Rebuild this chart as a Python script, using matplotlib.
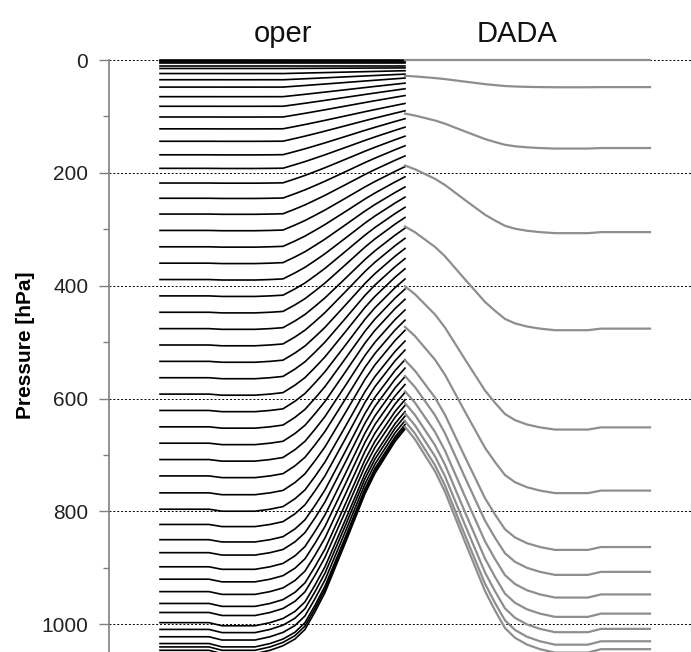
import numpy as np
import matplotlib
matplotlib.use("Agg")
import matplotlib.pyplot as plt

plt.rcParams["font.family"] = ["Liberation Sans", "DejaVu Sans"]

# horizontal grid nodes: distance from the mountain top (oper to the left, DADA to the right)
dist = [0, 10, 20, 30, 40, 50, 60, 70, 80, 90, 100, 110, 122, 135, 150, 183, 196, 245]
# surface pressure under each node (hPa)
surf_p = [650, 672, 700, 728, 764, 808, 852, 895, 938, 972, 1003, 1020, 1032, 1040, 1046, 1046, 1040, 1040]

# model levels of "oper": pressure over the plain and over the mountain top
oper_plain = [0, 1, 3, 6, 10, 15, 24, 35, 48, 65, 82, 101, 122, 144, 168, 192, 218, 245,
              273, 302, 331, 360, 389, 418, 447, 476, 505, 534, 563, 592, 621, 650, 679,
              708, 737, 767, 796, 823, 850, 873, 898, 920, 942, 963, 979, 997, 1009, 1022,
              1034, 1040, 1046]
oper_peak = [0, 1, 3, 6, 10, 14, 19, 25, 32, 41, 51, 63, 77, 90, 104, 119, 135, 152,
             170, 189, 207, 225, 243, 261, 279, 298, 316, 334, 352, 370, 388, 406, 424,
             443, 461, 479, 498, 514, 531, 546, 561, 575, 589, 602, 612, 623, 631, 639,
             646, 650, 654]

# model levels of "DADA"
dada_plain = [0, 48, 156, 305, 476, 651, 763, 863, 907, 947, 981, 1008, 1030, 1044]
dada_peak = [0, 28, 95, 187, 295, 401, 473, 532, 560, 587, 608, 626, 640, 650]

d = np.array(dist, dtype=float)
ps = np.array(surf_p, dtype=float)
# fraction of the way from plain level to mountain-top level
frac_surf = (ps[-1] - ps) / (ps[-1] - ps[0])
frac_lin = np.clip(1 - d / 122.0, 0, 1)

fig = plt.figure(figsize=(6.91, 6.52), dpi=100)
ax = fig.add_axes([109 / 691, 0, 582 / 691, 592 / 652])

for lo, hi in zip(oper_plain, oper_peak):
    w = lo / 1040.0
    g = w * frac_surf + (1 - w) * frac_lin
    ax.plot(-d, lo + (hi - lo) * g, color="black", lw=1.2, clip_on=False, zorder=3)

for lo, hi in zip(dada_plain, dada_peak):
    ax.plot(d, lo + (hi - lo) * frac_surf, color="#8e8e8e", lw=1.6, clip_on=False, zorder=3)

ax.set_xlim(-296, 286)
ax.set_ylim(1049, 0)
ax.set_yticks([0, 200, 400, 600, 800, 1000])
ax.set_yticks([100, 300, 500, 700, 900], minor=True)
ax.set_xticks([])
ax.tick_params(axis="y", which="major", length=7, width=1, color="#808080",
               labelsize=15, labelcolor="#222222", pad=8)
ax.tick_params(axis="y", which="minor", length=4, width=1, color="#808080")
ax.yaxis.grid(True, which="major", linestyle=(0, (2, 2)), color="black", lw=0.7)
ax.set_axisbelow(True)
for side in ["top", "right", "bottom"]:
    ax.spines[side].set_visible(False)
ax.spines["left"].set_color("#808080")
ax.spines["left"].set_linewidth(1.2)

fig.text(283 / 691, 1 - 42 / 652, "oper", fontsize=21, ha="center", va="baseline", color="#111111")
fig.text(517 / 691, 1 - 42 / 652, "DADA", fontsize=21, ha="center", va="baseline", color="#111111")
fig.text(26 / 691, 1 - 345 / 652, "Pressure [hPa]", rotation=90, fontsize=15,
         fontweight="bold", ha="center", va="center")

fig.savefig("out.png", dpi=100)
